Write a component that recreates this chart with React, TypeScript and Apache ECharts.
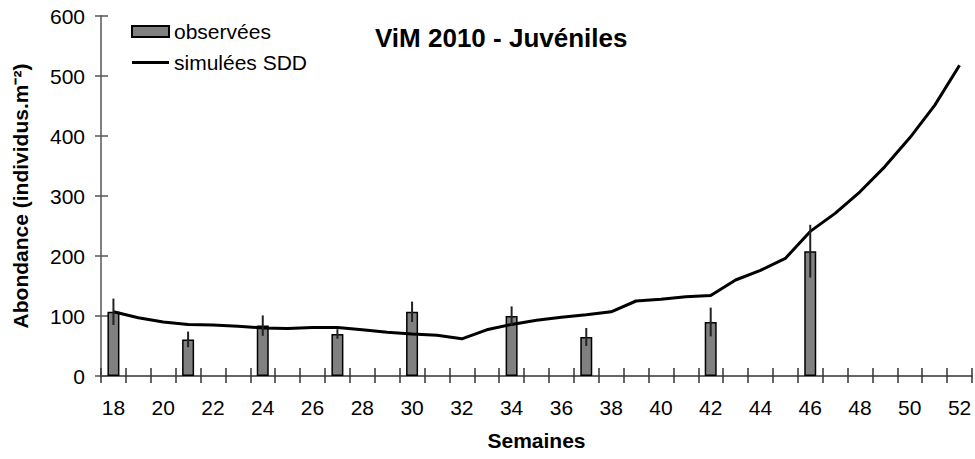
import React, { useEffect, useRef } from "react";
import * as echarts from "echarts";

const weeks = [
  "18", "19", "20", "21", "22", "23", "24", "25", "26", "27", "28", "29",
  "30", "31", "32", "33", "34", "35", "36", "37", "38", "39", "40", "41",
  "42", "43", "44", "45", "46", "47", "48", "49", "50", "51", "52",
];

const obsWeeks = ["18", "21", "24", "27", "30", "34", "37", "42", "46"];
const obsValues = [107, 61, 84, 70, 107, 100, 65, 90, 208];
const obsErrors = [22, 13, 17, 8, 17, 16, 15, 24, 44];

const simValues = [
  107, 97, 90, 86, 85, 83, 80, 79, 81, 81, 77, 73,
  70, 68, 62, 77, 86, 93, 98, 102, 107, 125, 128, 132,
  134, 160, 176, 196, 241, 271, 307, 349, 397, 451, 518,
];

const yTicks = [0, 100, 200, 300, 400, 500, 600];

const FONT = "'Liberation Sans', Arial, sans-serif";
const LINE_ICON =
  "path://M0,0h0.01v0.01h-0.01Z M0,4H37V7H0Z M0,11h0.01v-0.01h-0.01Z";

export default function App() {
  const ref = useRef<HTMLDivElement>(null);

  useEffect(() => {
    if (!ref.current) return;
    const chart = echarts.init(ref.current, undefined, { renderer: "svg" });

    const barData = weeks.map((w) => {
      const i = obsWeeks.indexOf(w);
      return i >= 0 ? obsValues[i] : "-";
    });
    const errData = obsWeeks.map((w, i) => [
      weeks.indexOf(w),
      obsValues[i] - obsErrors[i],
      obsValues[i] + obsErrors[i],
    ]);

    chart.setOption({
      animation: false,
      backgroundColor: "#ffffff",
      textStyle: { fontFamily: FONT },
      title: {
        text: "ViM 2010 - Juvéniles",
        left: 370,
        top: 20,
        textStyle: { fontFamily: FONT, fontWeight: "bold", fontSize: 26, color: "#000" },
      },
      legend: {
        orient: "vertical",
        left: 126,
        top: 16,
        itemWidth: 37,
        itemHeight: 11,
        itemGap: 10,
        textStyle: { fontFamily: FONT, fontSize: 21, color: "#000" },
        data: [
          { name: "observées", icon: "rect" },
          { name: "simulées SDD", icon: LINE_ICON, itemStyle: { color: "#000" } },
        ],
      },
      grid: { left: 101, right: 3, top: 16, bottom: 83 },
      xAxis: [
        {
          type: "category",
          data: weeks,
          boundaryGap: true,
          name: "Semaines",
          nameLocation: "middle",
          nameGap: 54,
          nameTextStyle: { fontFamily: FONT, fontWeight: "bold", fontSize: 21, color: "#000" },
          axisLine: { show: true, lineStyle: { color: "#333", width: 1.5 } },
          axisTick: { show: true, interval: 0, length: 7, lineStyle: { color: "#333", width: 1.5 } },
          axisLabel: {
            interval: 1,
            margin: 21,
            fontFamily: FONT,
            fontSize: 21,
            color: "#000",
          },
          splitLine: { show: false },
        },
        {
          type: "category",
          data: weeks,
          boundaryGap: true,
          position: "bottom",
          axisLine: { show: false },
          axisTick: { show: true, inside: true, interval: 0, length: 8, lineStyle: { color: "#333", width: 1.5 } },
          axisLabel: { show: false },
          splitLine: { show: false },
        },
      ],
      yAxis: [
        {
          type: "value",
          min: yTicks[0],
          max: yTicks[yTicks.length - 1],
          interval: 100,
          name: "Abondance (individus.m⁻²)",
          nameLocation: "middle",
          nameGap: 70,
          nameTextStyle: { fontFamily: FONT, fontWeight: "bold", fontSize: 21, color: "#000" },
          axisLine: { show: true, lineStyle: { color: "#808080", width: 2 } },
          axisTick: { show: true, length: 6, lineStyle: { color: "#555", width: 1.5 } },
          axisLabel: { margin: 16, fontFamily: FONT, fontSize: 21, color: "#000" },
          splitLine: { show: false },
        },
        {
          type: "value",
          min: yTicks[0],
          max: yTicks[yTicks.length - 1],
          interval: 100,
          position: "left",
          axisLine: { show: false },
          axisTick: { show: true, inside: true, length: 7, lineStyle: { color: "#555", width: 1.5 } },
          axisLabel: { show: false },
          splitLine: { show: false },
        },
      ],
      series: [
        {
          name: "observées",
          type: "bar",
          data: barData,
          barWidth: 12,
          itemStyle: { color: "#808080", borderColor: "#000", borderWidth: 1.5 },
          z: 2,
        },
        {
          name: "simulées SDD",
          type: "line",
          data: simValues,
          symbol: "none",
          smooth: false,
          lineStyle: { color: "#000", width: 3 },
          itemStyle: { color: "#000" },
          z: 3,
        },
        {
          name: "err",
          type: "custom",
          data: errData,
          encode: { x: 0, y: [1, 2] },
          z: 4,
          renderItem: (params: any, api: any) => {
            const lo = api.coord([api.value(0), api.value(1)]);
            const hi = api.coord([api.value(0), api.value(2)]);
            return {
              type: "line",
              shape: { x1: lo[0], y1: lo[1], x2: hi[0], y2: hi[1] },
              style: { stroke: "#222", lineWidth: 2 },
            };
          },
        },
      ],
    });

    return () => chart.dispose();
  }, []);

  return (
    <div
      ref={ref}
      style={{ position: "fixed", left: 0, top: 0, width: 975, height: 459, background: "#fff" }}
    />
  );
}
